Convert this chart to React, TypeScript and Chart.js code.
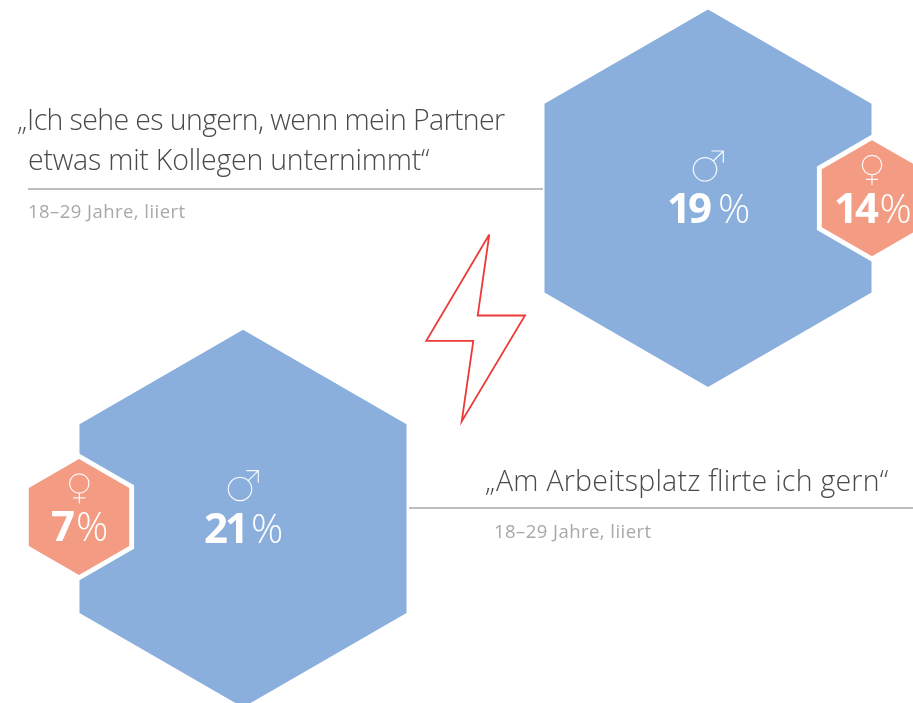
import React, { useEffect, useRef } from "react";
import { Chart, registerables } from "chart.js";

Chart.register(...registerables);

// Values
const groups = ["Männer", "Frauen"];
const partnerQuoteLines = ["„Ich sehe es ungern, wenn mein Partner", "etwas mit Kollegen unternimmt“"];
const flirtQuoteLines = ["„Am Arbeitsplatz flirte ich gern“"];
const sampleLabel = "18–29 Jahre, liiert";
const partnerValues = [19, 14];
const flirtValues = [21, 7];

const W = 913;
const H = 703;
const BLUE = "#8AAFDD";
const CORAL = "#F49B84";
const BIG_R = 188.8;
const SMALL_R = 58;
const HALO = 5.6;

const hex = (cx: number, cy: number, r: number) =>
  [0, 1, 2, 3, 4, 5, 6].map((i) => {
    const a = ((-90 + 60 * i) * Math.PI) / 180;
    return { x: cx + r * Math.cos(a), y: cy + r * Math.sin(a) };
  });

const shape = (data: any[], color: string, order: number) => ({
  data,
  showLine: true,
  fill: "shape",
  backgroundColor: color,
  borderWidth: 0,
  pointRadius: 0,
  tension: 0,
  order,
});

const rule = (x0: number, x1: number, y: number) => ({
  data: [{ x: x0, y }, { x: x1, y }],
  showLine: true,
  borderColor: "#A9A9A9",
  borderWidth: 1.3,
  pointRadius: 0,
  order: 4,
});

const boltOutline = [
  { x: 489.3, y: 234.5 },
  { x: 477.7, y: 315.5 },
  { x: 525, y: 315.5 },
  { x: 461.7, y: 421.5 },
  { x: 473.3, y: 340.8 },
  { x: 426.3, y: 340.8 },
  { x: 489.3, y: 234.5 },
];

type T = { s: string; x: number; y: number; font: string; color: string; ls?: number };

const textItems = (): T[] => {
  const quote = "300 28.5px 'Open Sans'";
  const sub = "400 18.5px 'Open Sans'";
  const dark = "#4A4A4A";
  const grey = "#A8A8A8";
  const bold = "700 42px 'Open Sans'";
  const light = "300 40px 'Open Sans'";
  const white = "#FFFFFF";
  return [
    { s: partnerQuoteLines[0], x: 17, y: 130, font: quote, color: dark, ls: -0.62 },
    { s: partnerQuoteLines[1], x: 28, y: 170, font: quote, color: dark, ls: -0.23 },
    { s: sampleLabel, x: 28, y: 218, font: sub, color: grey, ls: 0.45 },
    { s: flirtQuoteLines[0], x: 485, y: 491, font: quote, color: dark, ls: 0.25 },
    { s: sampleLabel, x: 494, y: 538, font: sub, color: grey, ls: 0.45 },
    { s: String(partnerValues[0]), x: 667, y: 222.5, font: bold, color: white, ls: -3 },
    { s: "%", x: 718, y: 222.5, font: light, color: white, ls: 0 },
    { s: String(partnerValues[1]), x: 834, y: 222.5, font: bold, color: white, ls: -3 },
    { s: "%", x: 879.5, y: 222.5, font: light, color: white, ls: 0 },
    { s: String(flirtValues[0]), x: 204, y: 542.5, font: bold, color: white, ls: -3 },
    { s: "%", x: 251, y: 542.5, font: light, color: white, ls: 0 },
    { s: String(flirtValues[1]), x: 51, y: 541, font: bold, color: white, ls: 0 },
    { s: "%", x: 76, y: 541, font: light, color: white, ls: 0 },
  ];
};

const maleIcons = [
  { x: 705, y: 169.3 },
  { x: 240, y: 489 },
];
const femaleIcons = [
  { x: 872, y: 165 },
  { x: 79.3, y: 483.5 },
];

const labelsPlugin = {
  id: "labels",
  afterDatasetsDraw(chart: any) {
    const { ctx, scales } = chart;
    ctx.save();
    ctx.textAlign = "left";
    ctx.textBaseline = "alphabetic";
    for (const t of textItems()) {
      ctx.font = t.font;
      ctx.fillStyle = t.color;
      (ctx as any).letterSpacing = `${t.ls ?? 0}px`;
      ctx.fillText(t.s, scales.x.getPixelForValue(t.x), scales.y.getPixelForValue(t.y));
    }
    ctx.strokeStyle = "rgba(255,255,255,0.92)";
    ctx.lineWidth = 1.2;
    for (const m of maleIcons) {
      const x = scales.x.getPixelForValue(m.x);
      const y = scales.y.getPixelForValue(m.y);
      ctx.beginPath();
      ctx.arc(x, y, 11.7, 0, Math.PI * 2);
      ctx.moveTo(x + 8.3, y - 8.3);
      ctx.lineTo(x + 18.3, y - 18.3);
      ctx.moveTo(x + 6.5, y - 18.3);
      ctx.lineTo(x + 18.3, y - 18.3);
      ctx.lineTo(x + 18.3, y - 6.5);
      ctx.stroke();
    }
    for (const f of femaleIcons) {
      const x = scales.x.getPixelForValue(f.x);
      const y = scales.y.getPixelForValue(f.y);
      ctx.beginPath();
      ctx.arc(x, y, 9.7, 0, Math.PI * 2);
      ctx.moveTo(x, y + 9.7);
      ctx.lineTo(x, y + 20);
      ctx.moveTo(x - 6, y + 14.3);
      ctx.lineTo(x + 6, y + 14.3);
      ctx.stroke();
    }
    ctx.restore();
  },
};

export default function App() {
  const ref = useRef<HTMLCanvasElement>(null);
  useEffect(() => {
    const chart = new Chart(ref.current as HTMLCanvasElement, {
      type: "scatter",
      data: {
        labels: groups,
        datasets: [
          shape(hex(708, 198.2, BIG_R), BLUE, 3),
          shape(hex(872, 198.2, SMALL_R + HALO), "#FFFFFF", 2),
          shape(hex(872, 198.2, SMALL_R), CORAL, 1),
          shape(hex(243, 518.6, BIG_R), BLUE, 3),
          shape(hex(79, 517, SMALL_R + HALO), "#FFFFFF", 2),
          shape(hex(79, 517, SMALL_R), CORAL, 1),
          rule(28, 543, 189),
          rule(409, 913, 508),
          {
            data: boltOutline,
            showLine: true,
            borderColor: "#EC3B37",
            borderWidth: 1.8,
            borderJoinStyle: "miter",
            pointRadius: 0,
            order: 4,
          },
        ] as any,
      },
      options: {
        animation: false,
        responsive: false,
        layout: { padding: 0 },
        plugins: { legend: { display: false }, tooltip: { enabled: false } },
        events: [],
        scales: {
          x: { type: "linear", min: 0, max: W, display: false },
          y: { type: "linear", min: 0, max: H, reverse: true, display: false },
        },
      },
      plugins: [labelsPlugin],
    });
    return () => chart.destroy();
  }, []);
  return (
    <div style={{ position: "absolute", left: 0, top: 0, width: W, height: H, background: "#fff", overflow: "hidden" }}>
      <canvas ref={ref} width={W} height={H} style={{ display: "block" }} />
    </div>
  );
}
